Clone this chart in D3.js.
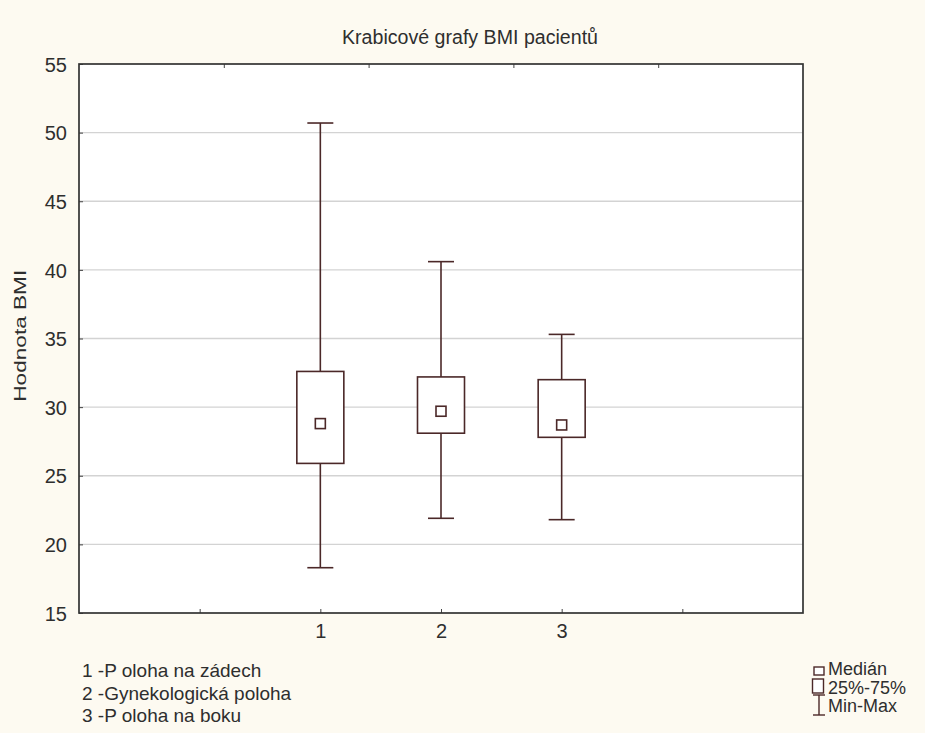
<!DOCTYPE html>
<html>
<head>
<meta charset="utf-8">
<script src="https://cdn.jsdelivr.net/npm/d3@7/dist/d3.min.js"></script>
<style>
  html, body { margin: 0; padding: 0; background: #fdfaf1; }
  svg { display: block; font-family: "Liberation Sans", Arial, sans-serif; }
</style>
</head>
<body>
<div id="chart"></div>
<script>
// Box plot data (BMI by patient position)
const categories = [1, 2, 3];
const minValues = [18.3, 21.9, 21.8];
const q1Values = [25.9, 28.1, 27.8];
const medianValues = [28.8, 29.7, 28.7];
const q3Values = [32.6, 32.2, 32.0];
const maxValues = [50.7, 40.6, 35.3];
const yTicks = [15, 20, 25, 30, 35, 40, 45, 50, 55];
const xTicks = [0, 1, 2, 3, 4];
const groupNames = ['1 -P oloha na zádech', '2 -Gynekologická poloha', '3 -P oloha na boku'];
const legendItems = ['Medián', '25%-75%', 'Min-Max'];

const W = 925, H = 733;
const margin = { top: 64, right: 122, bottom: 120, left: 79 };
const width = W - margin.left - margin.right;
const height = H - margin.top - margin.bottom;
const ink = '#4b2828';
const textColor = '#2e2e2e';

const svg = d3.select('#chart').append('svg')
  .attr('width', W)
  .attr('height', H);

svg.append('rect').attr('width', W).attr('height', H).attr('fill', '#fdfaf1');

const g = svg.append('g').attr('transform', `translate(${margin.left},${margin.top})`);

const x = d3.scaleLinear().domain([-1, 5]).range([0, width]);
const xTop = d3.scaleLinear().domain([0, 5]).range([0, width]);
const y = d3.scaleLinear().domain([15, 55]).range([height, 0]);

g.append('rect').attr('width', width).attr('height', height).attr('fill', '#ffffff');

// Gridlines
g.selectAll('.grid')
  .data(yTicks.slice(1, -1)).enter().append('line')
  .attr('x1', 0).attr('x2', width)
  .attr('y1', d => y(d)).attr('y2', d => y(d))
  .attr('stroke', '#d3d3d3').attr('stroke-width', 1.3);

// Y axis labels
const yAxis = g.append('g')
  .call(d3.axisLeft(y).tickValues(yTicks).tickSize(-4).tickPadding(12));
yAxis.select('.domain').remove();
yAxis.selectAll('line').attr('stroke', '#444');
yAxis.selectAll('text')
  .attr('font-size', 20)
  .attr('fill', textColor)
  .attr('dy', '0.36em');

// X axis
const xAxis = g.append('g')
  .attr('transform', `translate(0,${height})`)
  .call(d3.axisBottom(x).tickValues(xTicks).tickSize(-4).tickPadding(11)
    .tickFormat(d => categories.includes(d) ? d : ''));
xAxis.select('.domain').remove();
xAxis.selectAll('line').attr('stroke', '#444');
xAxis.selectAll('text')
  .attr('font-size', 20)
  .attr('fill', textColor)
  .attr('dy', '0.71em');

// top ticks
const topAxis = g.append('g')
  .call(d3.axisTop(xTop).tickValues([1, 2, 3, 4]).tickSize(-4).tickFormat(''));
topAxis.select('.domain').remove();
topAxis.selectAll('line').attr('stroke', '#444');

// Frame
g.append('rect').attr('width', width).attr('height', height)
  .attr('fill', 'none').attr('stroke', '#333').attr('stroke-width', 1.7);

// Boxes
const boxW = 47, capW = 26, medW = 10;
const data = categories.map((c, i) => ({
  c, min: minValues[i], q1: q1Values[i], med: medianValues[i], q3: q3Values[i], max: maxValues[i]
}));

const box = g.selectAll('.box').data(data).enter().append('g').attr('class', 'box');

box.append('line')
  .attr('x1', d => x(d.c)).attr('x2', d => x(d.c))
  .attr('y1', d => y(d.max)).attr('y2', d => y(d.q3))
  .attr('stroke', ink).attr('stroke-width', 1.6);
box.append('line')
  .attr('x1', d => x(d.c)).attr('x2', d => x(d.c))
  .attr('y1', d => y(d.q1)).attr('y2', d => y(d.min))
  .attr('stroke', ink).attr('stroke-width', 1.6);
box.append('line')
  .attr('x1', d => x(d.c) - capW / 2).attr('x2', d => x(d.c) + capW / 2)
  .attr('y1', d => y(d.max)).attr('y2', d => y(d.max))
  .attr('stroke', ink).attr('stroke-width', 1.6);
box.append('line')
  .attr('x1', d => x(d.c) - capW / 2).attr('x2', d => x(d.c) + capW / 2)
  .attr('y1', d => y(d.min)).attr('y2', d => y(d.min))
  .attr('stroke', ink).attr('stroke-width', 1.6);
box.append('rect')
  .attr('x', d => x(d.c) - boxW / 2).attr('width', boxW)
  .attr('y', d => y(d.q3)).attr('height', d => y(d.q1) - y(d.q3))
  .attr('fill', '#fff').attr('stroke', ink).attr('stroke-width', 1.6);
box.append('rect')
  .attr('x', d => x(d.c) - medW / 2).attr('width', medW)
  .attr('y', d => y(d.med) - medW / 2).attr('height', medW)
  .attr('fill', '#fff').attr('stroke', ink).attr('stroke-width', 1.6);

// Title
svg.append('text')
  .attr('x', 470).attr('y', 44)
  .attr('text-anchor', 'middle')
  .attr('textLength', 256).attr('lengthAdjust', 'spacingAndGlyphs')
  .style('font-size', '20px').style('fill', textColor)
  .text('Krabicové grafy BMI pacientů');

// Y axis title
svg.append('text')
  .attr('transform', `translate(26,${margin.top + y(35.2)}) rotate(-90)`)
  .attr('text-anchor', 'middle')
  .attr('textLength', 132).attr('lengthAdjust', 'spacingAndGlyphs')
  .style('font-size', '17px').style('fill', textColor)
  .text('Hodnota BMI');

// Group names legend
svg.selectAll('.gname').data(groupNames).enter().append('text')
  .attr('x', 82).attr('y', (d, i) => 677 + i * 22.5)
  .style('font-size', '19px').style('fill', textColor)
  .text(d => d);

// Symbol legend
const lg = svg.append('g').attr('transform', 'translate(819,0)');
lg.append('rect').attr('x', -5).attr('y', 667).attr('width', 10).attr('height', 8)
  .attr('fill', '#fff').attr('stroke', ink).attr('stroke-width', 1.4);
lg.append('rect').attr('x', -6.5).attr('y', 679).attr('width', 11).attr('height', 14)
  .attr('fill', '#fff').attr('stroke', ink).attr('stroke-width', 1.4);
lg.append('line').attr('x1', -6).attr('x2', 6).attr('y1', 695).attr('y2', 695)
  .attr('stroke', ink).attr('stroke-width', 1.4);
lg.append('line').attr('x1', -6).attr('x2', 6).attr('y1', 715).attr('y2', 715)
  .attr('stroke', ink).attr('stroke-width', 1.4);
lg.append('line').attr('x1', 0).attr('x2', 0).attr('y1', 695).attr('y2', 715)
  .attr('stroke', ink).attr('stroke-width', 1.4);
lg.selectAll('.lt').data(legendItems).enter().append('text')
  .attr('x', 9).attr('y', (d, i) => 675 + i * 18.5)
  .style('font-size', '18px').style('fill', textColor)
  .text(d => d);
</script>
</body>
</html>
